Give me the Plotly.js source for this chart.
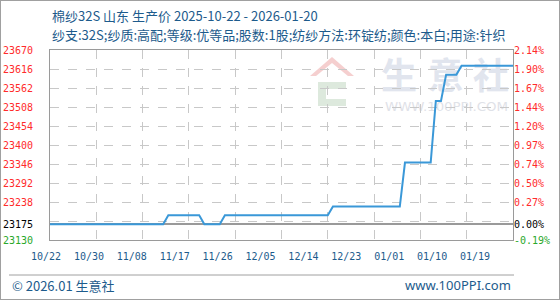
<!DOCTYPE html>
<html>
<head>
<meta charset="utf-8">
<script src="https://cdn.plot.ly/plotly-3.0.1.min.js"></script>
<style>
html,body{margin:0;padding:0;background:#fff;}
#wrap{position:relative;width:560px;height:300px;}
#chart{width:560px;height:300px;}
#frame{position:absolute;left:0;top:0;width:560px;height:300px;box-sizing:border-box;border:1px solid #a0a0a0;pointer-events:none;}
</style>
</head>
<body>
<div id="wrap"><div id="chart"></div><div id="frame"></div></div>
<script>
// ---- data ----
const titleLine1 = '棉纱32S 山东 生产价 2025-10-22 - 2026-01-20';
const titleLine2 = '纱支:32S;纱质:高配;等级:优等品;股数:1股;纺纱方法:环锭纺;颜色:本白;用途:针织';
const dates = ['2025-10-22','2025-11-13','2025-11-14','2025-11-20','2025-11-21','2025-11-24','2025-11-25',
               '2025-12-15','2025-12-16','2025-12-29','2025-12-30','2026-01-04','2026-01-05',
               '2026-01-06','2026-01-07','2026-01-09','2026-01-10','2026-01-20'];
const prices = [23175,23175,23200,23200,23175,23175,23200,
                23200,23225,23225,23350,23350,23525,
                23525,23600,23600,23625,23625];
const baseValue = 23175;
const yTickVals = [23130,23175,23238,23292,23346,23400,23454,23508,23562,23616,23670];
const xTickLabels = ['10/22','10/30','11/08','11/17','11/26','12/05','12/14','12/23','01/01','01/10','01/19'];
const footerLeft = '© 2026.01 生意社';
const footerRight = 'www.100PPI.com';

// ---- helpers ----
const L = 50, R = 513, T = 50, B = 240;
const px = x => (x - L) / (R - L);
const py = y => (B - y) / (B - T);
const RED = '#ff2b2b', GREEN = '#2aa82a', BLUE_TXT = '#1d5b8c';
const colorFor = v => v > baseValue ? RED : (v < baseValue ? GREEN : '#000');
const pct = v => (v - baseValue) / baseValue * 100;
const yMin = Math.min(...yTickVals), yMax = Math.max(...yTickVals);

const leftText = yTickVals.map(v => `<span style="color:${colorFor(v)}">${v}</span>`);
const rightVals = yTickVals.map(pct);
const rightText = yTickVals.map(v => `<span style="color:${colorFor(v)}">${pct(v).toFixed(2)}%</span>`);

// watermark svg
const wm = `<svg xmlns="http://www.w3.org/2000/svg" width="220" height="63" viewBox="0 0 220 63">
<g opacity="0.6">
<polygon points="10,24 32,5 54,24 48,24 32,11 16,24" fill="#f0b0b0"/>
<path d="M18,30 h28 v7 h-20 v10 h20 v7 h-28 z" fill="#c8dcc8"/>
</g>
<g font-family="Noto Sans CJK SC" font-weight="bold" font-size="36" fill="#e1e5ee" text-anchor="middle">
<text x="99" y="37">生</text><text x="146" y="37">意</text><text x="191" y="37">社</text></g>
<text x="85" y="59" font-family="DejaVu Sans" font-size="13" fill="#dfe2e8" textLength="123" lengthAdjust="spacingAndGlyphs">WWW.100PPI.COM</text>
</svg>`;
const wmSrc = 'data:image/svg+xml;charset=utf-8,' + encodeURIComponent(wm);

const traces = [
  {x: dates, y: prices, type: 'scatter', mode: 'lines', xaxis: 'x', yaxis: 'y',
   line: {color: '#3a98d8', width: 2}, hoverinfo: 'skip', showlegend: false},
  {x: [], y: [], type: 'scatter', mode: 'lines', xaxis: 'x2', yaxis: 'y', showlegend: false, hoverinfo: 'skip'},
  {x: [], y: [], type: 'scatter', mode: 'lines', xaxis: 'x', yaxis: 'y2', showlegend: false, hoverinfo: 'skip'},
  {x: [], y: [], type: 'scatter', mode: 'lines', xaxis: 'x', yaxis: 'y3', showlegend: false, hoverinfo: 'skip'}
];

const tickFont = {family: 'DejaVu Sans Mono, monospace', size: 10};
const labelStep = 42.9; // px between date labels

const layout = {
  width: 560, height: 300,
  margin: {l: L, r: 560 - R, t: T, b: 300 - B, pad: 0},
  paper_bgcolor: '#fff', plot_bgcolor: 'rgba(0,0,0,0)',
  showlegend: false,
  xaxis: {type: 'date', range: [dates[0], dates[dates.length - 1]],
          tick0: dates[0], dtick: 9 * 86400000,
          showgrid: true, gridcolor: '#c8c8c8', griddash: 'dash', gridwidth: 1,
          showticklabels: false, ticks: '', zeroline: false,
          showline: true, mirror: true, linecolor: '#9a9a9a', linewidth: 1},
  xaxis2: {overlaying: 'x', anchor: 'y', side: 'bottom', range: [-0.001, (R - L) / labelStep],
           tickmode: 'array', tickvals: xTickLabels.map((_, i) => i), ticktext: xTickLabels,
           ticklabelshift: -4,
           showgrid: false, zeroline: false, showline: false,
           ticks: 'outside', ticklen: 7, tickcolor: 'rgba(0,0,0,0)',
           tickfont: Object.assign({color: BLUE_TXT}, tickFont)},
  yaxis: {range: [yMin, yMax], tick0: yMin, dtick: 54,
          showgrid: true, gridcolor: '#c8c8c8', griddash: 'dash', gridwidth: 1,
          showticklabels: false, ticks: '', zeroline: false,
          showline: true, mirror: true, linecolor: '#9a9a9a', linewidth: 1},
  yaxis3: {overlaying: 'y', anchor: 'x', side: 'left', range: [yMin, yMax],
           tickmode: 'array', tickvals: yTickVals, ticktext: leftText,
           showgrid: false, zeroline: false, showline: false,
           ticks: 'outside', ticklen: 14, tickcolor: 'rgba(0,0,0,0)', tickfont: tickFont},
  yaxis2: {overlaying: 'y', anchor: 'x', side: 'right', range: [pct(yMin), pct(yMax)],
           tickmode: 'array', tickvals: rightVals, ticktext: rightText,
           showgrid: false, zeroline: true, zerolinecolor: '#9a9a9a', zerolinewidth: 2,
           showline: false, ticks: '', tickfont: tickFont},
  images: [{source: wmSrc, xref: 'paper', yref: 'paper', x: px(300), y: py(52),
            sizex: 220 / (R - L), sizey: 63 / (B - T), xanchor: 'left', yanchor: 'top',
            sizing: 'stretch', layer: 'below'}],
  shapes: [{type: 'line', xref: 'paper', yref: 'paper', x0: px(9), x1: px(514), y0: py(275), y1: py(275),
            line: {color: '#a0a0a0', width: 1}}],
  annotations: [
    {text: titleLine1, xref: 'paper', yref: 'paper', x: 0, y: 1, xanchor: 'left', yanchor: 'middle',
     yshift: 34.5, showarrow: false, font: {family: 'Noto Sans CJK SC', size: 13, color: BLUE_TXT}},
    {text: titleLine2, xref: 'paper', yref: 'paper', x: 0, y: 1, xanchor: 'left', yanchor: 'middle',
     yshift: 15.5, showarrow: false, font: {family: 'Noto Sans CJK SC', size: 13, color: BLUE_TXT}},
    {text: footerLeft, xref: 'paper', yref: 'paper', x: px(10), y: py(285), xanchor: 'left', yanchor: 'middle',
     showarrow: false, font: {family: 'Noto Sans CJK SC', size: 13, color: BLUE_TXT}},
    {text: footerRight, xref: 'paper', yref: 'paper', x: px(513), y: py(285), xanchor: 'right', yanchor: 'middle',
     showarrow: false, font: {family: 'Noto Sans', size: 13, color: BLUE_TXT}}
  ]
};

Plotly.newPlot('chart', traces, layout, {staticPlot: true, displayModeBar: false});
</script>
</body>
</html>
